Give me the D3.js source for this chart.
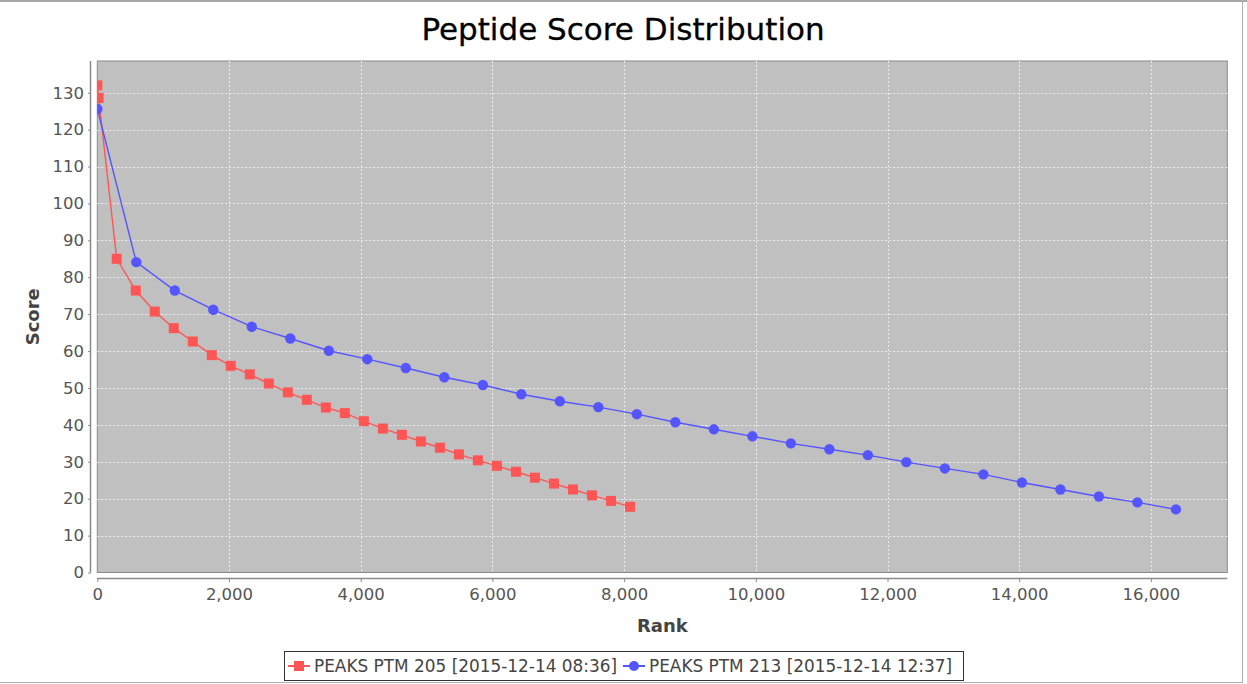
<!DOCTYPE html>
<html>
<head>
<meta charset="utf-8">
<script src="https://cdn.jsdelivr.net/npm/d3@7/dist/d3.min.js"></script>
<style>
  body { margin: 0; background: #fff; }
  svg { display: block; font-family: "DejaVu Sans", sans-serif; }
</style>
</head>
<body>
<div id="chart"></div>
<script>
// data
var seriesNames = ["PEAKS PTM 205 [2015-12-14 08:36]", "PEAKS PTM 213 [2015-12-14 12:37]"];
var seriesColors = ["#FF5555", "#5555FF"];

var rank205 = [1, 20, 295, 584, 873, 1161, 1450, 1739, 2027, 2316, 2605, 2893, 3182, 3471, 3759,
  4048, 4337, 4626, 4914, 5203, 5492, 5780, 6069, 6358, 6646, 6935, 7224, 7512, 7801, 8090];
var score205 = [132, 128.6, 85.0, 76.4, 70.7, 66.2, 62.6, 58.9, 56.0, 53.7, 51.2, 48.8, 46.8, 44.7, 43.2,
  41.0, 39.0, 37.3, 35.5, 33.8, 32.0, 30.4, 28.9, 27.3, 25.7, 24.1, 22.5, 20.9, 19.4, 17.8];

var rank213 = [1, 592, 1177, 1761, 2346, 2931, 3516, 4100, 4685, 5270, 5855, 6439, 7024, 7609, 8193,
  8778, 9363, 9948, 10532, 11117, 11702, 12286, 12871, 13456, 14041, 14625, 15210, 15795, 16380];
var score213 = [125.6, 84.1, 76.4, 71.2, 66.6, 63.4, 60.1, 57.8, 55.4, 52.9, 50.8, 48.3, 46.4, 44.8, 42.9,
  40.7, 38.8, 36.9, 35.0, 33.4, 31.8, 29.9, 28.2, 26.6, 24.4, 22.5, 20.6, 19.0, 17.1];

var xTicks = [0, 2000, 4000, 6000, 8000, 10000, 12000, 14000, 16000];
var yTicks = [0, 10, 20, 30, 40, 50, 60, 70, 80, 90, 100, 110, 120, 130];

var width = 1247, height = 684;
var plot = { left: 97.3, right: 1227.3, top: 61, bottom: 572.5 };

var svg = d3.select("#chart").append("svg")
  .attr("width", width)
  .attr("height", height);

svg.append("rect").attr("width", width).attr("height", height).attr("fill", "#fff");

// frame lines of the original window
svg.append("line").attr("x1", 0).attr("x2", width).attr("y1", 1).attr("y2", 1)
  .attr("stroke", "#a8a8a8").attr("stroke-width", 2);
svg.append("line").attr("x1", 1242.5).attr("x2", 1242.5).attr("y1", 0).attr("y2", 683)
  .attr("stroke", "#b0b0b0");
svg.append("line").attr("x1", 0).attr("x2", 1243).attr("y1", 682.5).attr("y2", 682.5)
  .attr("stroke", "#b0b0b0");

var x = d3.scaleLinear().domain([0, 17160]).range([plot.left, plot.right]);
var y = d3.scaleLinear().domain([0, 138.6]).range([plot.bottom, plot.top]);

svg.append("text")
  .attr("x", 623).attr("y", 40)
  .attr("text-anchor", "middle")
  .attr("font-size", 31)
  .attr("fill", "#000")
  .attr("stroke", "#000").attr("stroke-width", 0.3)
  .text("Peptide Score Distribution");

svg.append("rect")
  .attr("x", plot.left).attr("y", plot.top)
  .attr("width", plot.right - plot.left).attr("height", plot.bottom - plot.top)
  .attr("fill", "#c0c0c0")
  .attr("stroke", "#8a8a8a");

svg.append("defs").append("clipPath").attr("id", "clip")
  .append("rect")
  .attr("x", plot.left).attr("y", plot.top)
  .attr("width", plot.right - plot.left).attr("height", plot.bottom - plot.top);

// grid
var grid = svg.append("g").attr("stroke", "#ececec").attr("stroke-width", 1)
  .attr("stroke-dasharray", "2,2");
grid.selectAll(".gx").data(xTicks.slice(1)).enter().append("line")
  .attr("x1", function (d) { return Math.round(x(d)) + 0.5; })
  .attr("x2", function (d) { return Math.round(x(d)) + 0.5; })
  .attr("y1", plot.top).attr("y2", plot.bottom);
grid.selectAll(".gy").data(yTicks.slice(1)).enter().append("line")
  .attr("x1", plot.left).attr("x2", plot.right)
  .attr("y1", function (d) { return Math.round(y(d)) + 0.5; })
  .attr("y2", function (d) { return Math.round(y(d)) + 0.5; });

// axes
var xAxis = svg.append("g")
  .attr("transform", "translate(0,578)")
  .call(d3.axisBottom(x).tickValues(xTicks).tickFormat(d3.format(","))
    .tickSizeInner(4).tickSizeOuter(0).tickPadding(4));
xAxis.select(".domain").attr("d", "M" + plot.left + ",0.5H" + plot.right);

var yAxis = svg.append("g")
  .attr("transform", "translate(91,0)")
  .call(d3.axisLeft(y).tickValues(yTicks)
    .tickSizeInner(3).tickSizeOuter(0).tickPadding(4));
yAxis.select(".domain").attr("d", "M-0.5," + plot.top + "V" + plot.bottom);

[xAxis, yAxis].forEach(function (a) {
  a.selectAll(".domain").attr("stroke", "#8a8a8a").attr("stroke-width", 1.5);
  a.selectAll(".tick line").attr("stroke", "#8a8a8a");
  a.selectAll("text").attr("fill", "#555").attr("font-size", 16.5)
    .attr("font-family", "DejaVu Sans, sans-serif");
});
xAxis.selectAll("text").attr("dy", "0.85em");

svg.append("text")
  .attr("x", (plot.left + plot.right) / 2).attr("y", 632)
  .attr("text-anchor", "middle")
  .attr("font-size", 18).attr("font-weight", "bold").attr("fill", "#444")
  .text("Rank");
svg.append("text")
  .attr("transform", "translate(39," + (plot.top + plot.bottom) / 2 + ") rotate(-90)")
  .attr("text-anchor", "middle")
  .attr("font-size", 18).attr("font-weight", "bold").attr("fill", "#444")
  .text("Score");

// series
var series = [
  { name: seriesNames[0], color: seriesColors[0], shape: "square",
    values: rank205.map(function (r, i) { return [r, score205[i]]; }) },
  { name: seriesNames[1], color: seriesColors[1], shape: "circle",
    values: rank213.map(function (r, i) { return [r, score213[i]]; }) }
];

var line = d3.line().x(function (d) { return x(d[0]); }).y(function (d) { return y(d[1]); });
var plotG = svg.append("g").attr("clip-path", "url(#clip)");

series.forEach(function (s) {
  plotG.append("path")
    .attr("d", line(s.values))
    .attr("fill", "none")
    .attr("stroke", s.color)
    .attr("stroke-width", 1.4);
});
series.forEach(function (s) {
  var m = plotG.selectAll(null).data(s.values).enter();
  if (s.shape === "square") {
    m.append("rect")
      .attr("x", function (d) { return x(d[0]) - 5; })
      .attr("y", function (d) { return y(d[1]) - 5; })
      .attr("width", 10).attr("height", 10)
      .attr("fill", s.color);
  } else {
    m.append("circle")
      .attr("cx", function (d) { return x(d[0]); })
      .attr("cy", function (d) { return y(d[1]); })
      .attr("r", 5.2)
      .attr("fill", s.color);
  }
});

// legend
var legend = svg.append("g");
legend.append("rect")
  .attr("x", 284.5).attr("y", 651.5).attr("width", 679).attr("height", 29)
  .attr("fill", "#fff").attr("stroke", "#333");
var items = [{ s: series[0], x0: 288, tx: 314 }, { s: series[1], x0: 623, tx: 649 }];
items.forEach(function (it) {
  var g = legend.append("g");
  g.append("line").attr("x1", it.x0).attr("x2", it.x0 + 22).attr("y1", 666).attr("y2", 666)
    .attr("stroke", it.s.color).attr("stroke-width", 2);
  if (it.s.shape === "square") {
    g.append("rect").attr("x", it.x0 + 6).attr("y", 661).attr("width", 10).attr("height", 10)
      .attr("fill", it.s.color);
  } else {
    g.append("circle").attr("cx", it.x0 + 11).attr("cy", 666).attr("r", 5)
      .attr("fill", it.s.color);
  }
  g.append("text").attr("x", it.tx).attr("y", 672)
    .attr("font-size", 16.9).attr("fill", "#444")
    .text(it.s.name);
});
</script>
</body>
</html>
